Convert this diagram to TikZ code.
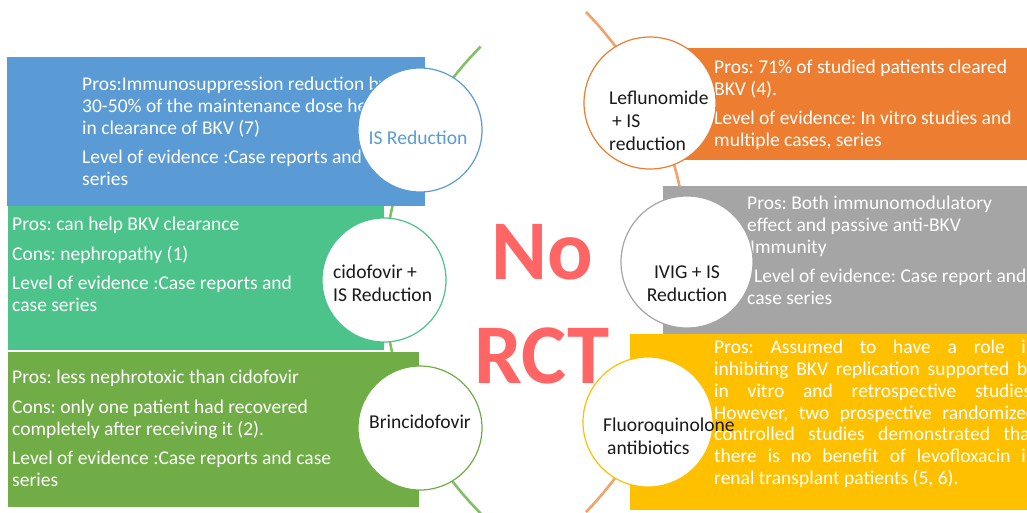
\documentclass[tikz,border=0pt]{standalone}
\usepackage{fontspec}
\setmainfont{Carlito}
\frenchspacing
\definecolor{cblue}{HTML}{5B9BD5}
\definecolor{cgreen}{HTML}{4CC38A}
\definecolor{cdgreen}{HTML}{70AD47}
\definecolor{corange}{HTML}{ED7D31}
\definecolor{cgray}{HTML}{A5A5A5}
\definecolor{cyellow}{HTML}{FFC000}
\definecolor{larc}{HTML}{82C065}
\definecolor{rarc}{HTML}{F2A26A}
\definecolor{nored}{HTML}{FF6565}
\definecolor{ctext}{HTML}{1A1A1A}
\begin{document}
\begin{tikzpicture}[x=1pt,y=-1pt,
  box/.style={draw=white, line width=0.8pt},
  txt/.style={anchor=base west, align=left, text=white, inner sep=0pt, font=\fontsize{19.5}{22}\selectfont\frenchspacing},
  circ/.style={circle, fill=white, line width=1.2pt, minimum size=#1, inner sep=0pt},
  circ/.default=124pt,
  ctxt/.style={inner sep=0pt, text=ctext, font=\fontsize{19.6}{23}\selectfont},
  conn/.style={line width=2.6pt}]
\useasboundingbox (0,0) rectangle (1027,512);

% connectors (big arcs through the circles)
\coordinate (ltop) at (480.65,46.65);
\coordinate (lbot) at (480.65,513.35);
\coordinate (rtop) at (585.96,11.92);
\coordinate (rbot) at (585.96,512.08);
\draw[conn, larc] (ltop) to[bend right=45] (lbot);
\draw[conn, rarc] (rtop) to[bend left=44] (rbot);

% boxes
\fill[box, cblue] (7,57) rectangle (424,205);
\fill[box, cgreen] (8,206) rectangle (383,349);
\fill[box, cdgreen] (8,352) rectangle (418,506);
\fill[box, corange] (640,48) rectangle (1030,159);
\fill[box, cgray] (663,186) rectangle (1030,333);
\fill[box, cyellow] (630,334) rectangle (1030,509);

% box texts (anchored at the baseline of their last line)
\node[txt] (tb) at (82,185) {Pros:Immunosuppression reduction by\\30-50\% of the maintenance dose helps\\in clearance of BKV (7)\\[7pt]Level of evidence :Case reports and case\\series};
\node[txt] (tg) at (12,311) {Pros: can help BKV clearance\\[8pt]Cons: nephropathy (1)\\[7pt]Level of evidence :Case reports and\\case series};
\node[txt] (tdg) at (12,486) {Pros: less nephrotoxic than cidofovir\\[8pt]Cons: only one patient had recovered\\completely after receiving it (2).\\[7pt]Level of evidence :Case reports and case\\series};
\node[txt] (to) at (714,146) {Pros: 71\% of studied patients cleared\\BKV (4).\\[7pt]Level of evidence: In vitro studies and\\multiple cases, series};
\node[txt] (tgr) at (747,304) {Pros: Both immunomodulatory\\effect and passive anti-BKV\\\hspace{3pt}Immunity\\[7pt]\hspace{7pt}Level of evidence: Case report and\\case series};
\node[txt, font=\fontsize{19.5}{21.67}\selectfont\frenchspacing] (ty) at (714,484) {\makebox[322pt][s]{Pros: Assumed to have a role in}\\\makebox[322pt][s]{inhibiting BKV replication supported by}\\\makebox[322pt][s]{in vitro and retrospective studies.}\\\makebox[322pt][s]{However, two prospective randomized}\\\makebox[322pt][s]{controlled studies demonstrated that}\\\makebox[322pt][s]{there is no benefit of levofloxacin in}\\renal transplant patients (5, 6).};

% circles
\node[circ, draw=cblue] (c1) at (420,130) {};
\node[circ, draw=cgreen] (c2) at (384,280) {};
\node[circ, draw=cdgreen] (c3) at (420,428) {};
\node[circ=132pt, draw=corange] (c4) at (650,103) {};
\node[circ=132pt, draw=cgray] (c5) at (687,262) {};
\node[circ=130pt, draw=cyellow] (c6) at (648,422) {};

% circle texts (anchored at the baseline of their last line)
\node[ctxt, anchor=base, text=cblue] (l1) at (418,144) {IS Reduction};
\node[ctxt, anchor=base west, align=left] (l2) at (333,301) {cidofovir +\\IS Reduction};
\node[ctxt, anchor=base] (l3) at (420,428) {Brincidofovir};
\node[ctxt, anchor=base west, align=left] (l4) at (609,150) {Leflunomide\\\hspace{3pt}+ IS\\reduction};
\node[ctxt, anchor=base, align=center] (l5) at (687,301) {IVIG + IS\\Reduction};
\node[ctxt, anchor=base west, align=left] (l6) at (603,454) {Fluoroquinolone\\\hspace{4pt}antibiotics};

% centre title
\node[inner sep=0pt, anchor=base, align=center, text=nored, font=\fontsize{85}{104}\selectfont\bfseries] (title) at (542,383) {No\\RCT};
\end{tikzpicture}
\end{document}
